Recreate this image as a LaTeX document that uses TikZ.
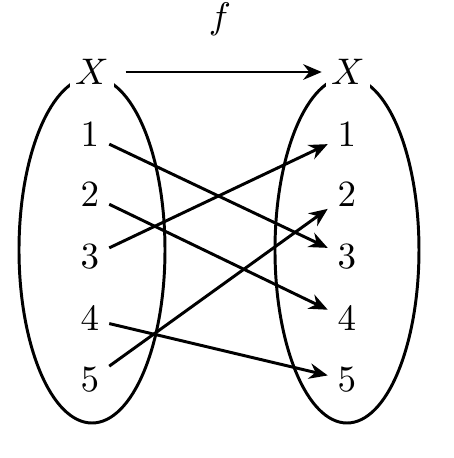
\documentclass[tikz,border=0pt]{standalone}
\usepackage{amsmath,amssymb}
\usepackage{tikz}
\usetikzlibrary{arrows.meta,positioning}

\begin{document}
\begin{tikzpicture}[x=0.95cm, y=0.95cm, >={Stealth[length=5pt,width=4.2pt]}]
				\useasboundingbox (0,0) rectangle (4.54,4.58);

				\draw [thick] (0.92,2.08) ellipse (0.73 and 1.73);
				\draw [thick] (3.47,2.08) ellipse (0.72 and 1.73);

				\node [fill = white, inner sep = 1.5pt] (lX) at (0.92,3.86) {$X$};
				\node [fill = white, inner sep = 1.5pt] (rX) at (3.48,3.86) {$X$};
				\draw [->, thick, shorten <= 0.1cm, shorten >= 0.03cm] (lX) -- (rX) node [pos=0.5, above=6pt] (f) {$f$};

				\node [inner sep = 2.5pt] (l1) at (0.90,3.23) {$1$};
				\node [inner sep = 2.5pt] (l2) at (0.90,2.63) {$2$};
				\node [inner sep = 2.5pt] (l3) at (0.90,2.01) {$3$};
				\node [inner sep = 2.5pt] (l4) at (0.90,1.39) {$4$};
				\node [inner sep = 2.5pt] (l5) at (0.90,0.78) {$5$};

				\node [inner sep = 2.5pt] (r1) at (3.47,3.23) {$1$};
				\node [inner sep = 2.5pt] (r2) at (3.47,2.63) {$2$};
				\node [inner sep = 2.5pt] (r3) at (3.47,2.01) {$3$};
				\node [inner sep = 2.5pt] (r4) at (3.47,1.39) {$4$};
				\node [inner sep = 2.5pt] (r5) at (3.47,0.78) {$5$};

				\draw [->, thick] (l1) -- (r3);
				\draw [->, thick] (l2) -- (r4);
				\draw [->, thick] (l3) -- (r1);
				\draw [->, thick] (l4) -- (r5);
				\draw [->, thick] (l5) -- (r2);
		\end{tikzpicture}
\end{document}
